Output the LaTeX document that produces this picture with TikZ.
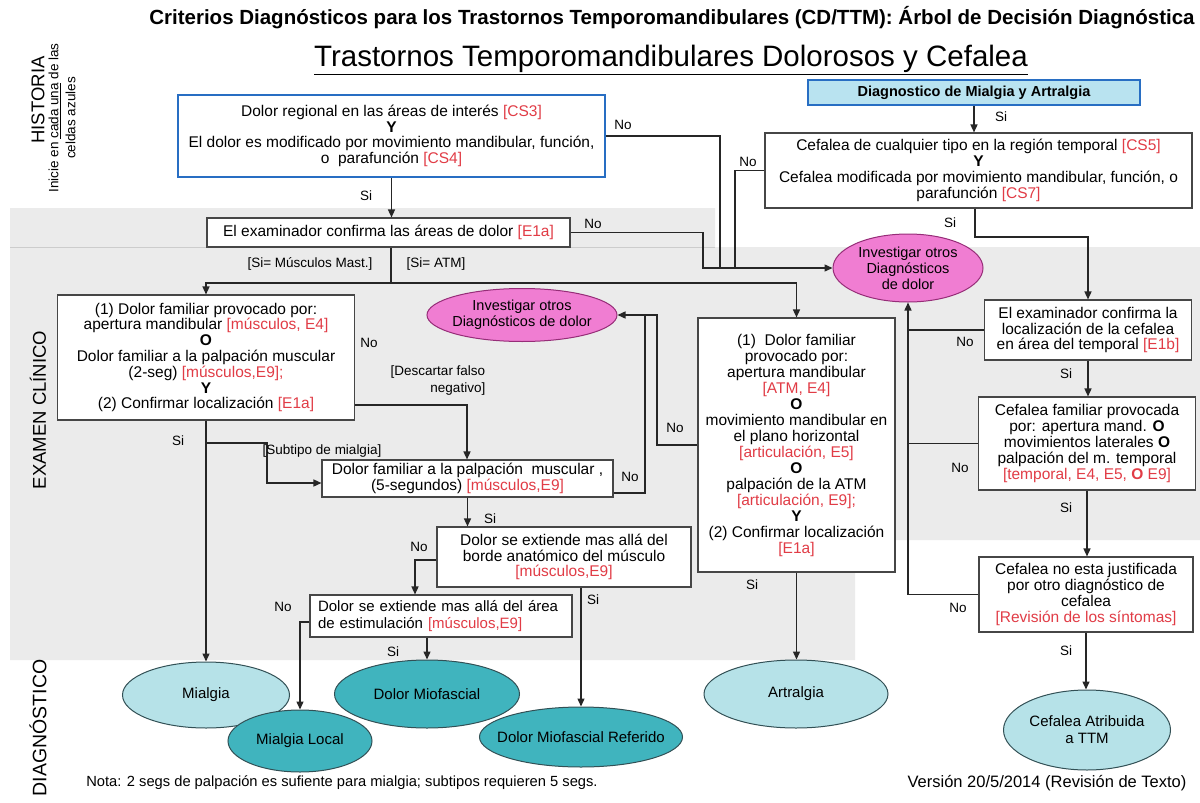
\documentclass[tikz,border=0pt]{standalone}
\usepackage{fontspec}
\setmainfont{Liberation Sans}
\usetikzlibrary{arrows.meta,shapes.geometric}

\definecolor{boxline}{RGB}{70,70,70}
\definecolor{boxblue}{RGB}{40,110,195}
\definecolor{diagfill}{RGB}{185,227,240}
\definecolor{pinkfill}{RGB}{240,125,210}
\definecolor{pinkline}{RGB}{150,45,120}
\definecolor{cyanfill}{RGB}{182,226,232}
\definecolor{tealfill}{RGB}{64,180,190}
\definecolor{ellline}{RGB}{50,80,85}
\definecolor{bggray}{RGB}{235,235,235}
\definecolor{cdred}{RGB}{225,60,70}
\newcommand{\rd}[1]{\textcolor{cdred}{#1}}

\begin{document}
\begin{tikzpicture}[x=1pt,y=-1pt,semithick,
  >={Triangle[length=8pt,width=7pt]},
  box/.style={draw=boxline,fill=white,line width=1.1pt,align=center,inner sep=0pt,
    font=\fontsize{15.5}{15.8}\selectfont},
  histbox/.style={box,draw=boxblue,line width=2.4pt},
  diagell/.style={draw=ellline,line width=1pt,ellipse,inner sep=-12pt,align=center,
    font=\fontsize{15}{17}\selectfont},
  lightell/.style={diagell,fill=cyanfill},
  darkell/.style={diagell,fill=tealfill},
  invell/.style={diagell,draw=pinkline,fill=pinkfill,font=\fontsize{14.5}{16}\selectfont},
  lbl/.style={inner sep=0pt,font=\fontsize{13.5}{17}\selectfont},
  side/.style={rotate=90,inner sep=0pt,font=\fontsize{18.5}{20}\selectfont},
  conn/.style={line width=1.4pt,draw=black!85}]
  \useasboundingbox (0,0) rectangle (1200,803);
  \fill[bggray] (10,208) -- (715,208) -- (715,247) -- (1200,247) -- (1200,540)
    -- (855,540) -- (855,660) -- (10,660) -- cycle;
  \draw[gray!40,line width=0.8pt] (10,247) -- (715,247);

  \node[font=\bfseries\fontsize{20.5}{22}\selectfont] (title) at (672,18) {Criterios Diagnósticos para los Trastornos Temporomandibulares (CD/TTM): Árbol de Decisión Diagnóstica};
  \node[font=\fontsize{29.5}{32}\selectfont] (subtitle) at (671,60) {\underline{Trastornos Temporomandibulares Dolorosos y Cefalea}};

  \node[side] (hist) at (38,100) {HISTORIA};
  \node[side,align=center,font=\fontsize{13.5}{17}\selectfont] (inicie) at (62,118) {Inicie en \underline{cada una} de las\\celdas azules};
  \node[side] (exam) at (38,410) {EXAMEN CLÍNICO};
  \node[side,font=\fontsize{19.5}{21}\selectfont] (diagn) at (38,728) {DIAGNÓSTICO};

  \node[histbox,minimum width=427,minimum height=82] (cs34) at (391.5,136) {Dolor regional en las áreas de interés \rd{[CS3]}\\\textbf{Y}\\El dolor es modificado por movimiento mandibular, función,\\o\ \ parafunción \rd{[CS4]}};
  \node[histbox,fill=diagfill,line width=2pt,minimum width=332,minimum height=25,font=\bfseries\fontsize{14.5}{16}\selectfont] (diag) at (974,92.5) {Diagnostico de Mialgia y Artralgia};
  \node[box,minimum width=427,minimum height=75] (cs57) at (978.5,170.5) {Cefalea de cualquier tipo en la región temporal \rd{[CS5]}\\\textbf{Y}\\Cefalea modificada por movimiento mandibular, función, o\\parafunción \rd{[CS7]}};
  \node[box,minimum width=363,minimum height=29] (e1a) at (388.5,232.5) {El examinador confirma las áreas de dolor \rd{[E1a]}};
  \node[box,minimum width=297,minimum height=125] (mus) at (206,357.5) {(1) Dolor familiar provocado por:\\apertura mandibular \rd{[músculos, E4]}\\\textbf{O}\\Dolor familiar a la palpación muscular\\(2-seg) \rd{[músculos,E9];}\\\textbf{Y}\\(2) Confirmar localización \rd{[E1a]}};
  \node[box,minimum width=197,minimum height=254,font=\fontsize{15.5}{16}\selectfont] (atm) at (796.5,445) {(1)\ \ Dolor familiar\\provocado por:\\apertura mandibular\\\rd{[ATM, E4]}\\\textbf{O}\\movimiento mandibular en\\el plano horizontal\\\rd{[articulación, E5]}\\\textbf{O}\\palpación de la ATM\\\rd{[articulación, E9];}\\\textbf{Y}\\(2) Confirmar localización\\\rd{[E1a]}};
  \node[box,minimum width=291,minimum height=37] (seg5) at (467.5,478.5) {Dolor familiar a la palpación\ \ muscular ,\\(5-segundos) \rd{[músculos,E9]}};
  \node[box,minimum width=254,minimum height=60] (borde) at (564,557) {Dolor se extiende mas allá del\\borde anatómico del músculo\\\rd{[músculos,E9]}};
  \node[box,minimum width=262,minimum height=42,align=left,text width=246,font=\fontsize{15}{17}\selectfont] (area) at (441,616) {Dolor se extiende mas allá del área\\de estimulación \rd{[músculos,E9]}};
  \node[box,minimum width=207,minimum height=60] (e1b) at (1088,330) {El examinador confirma la\\localización de la cefalea\\en área del temporal \rd{[E1b]}};
  \node[box,minimum width=217,minimum height=93] (cfam) at (1087,443.5) {Cefalea familiar provocada\\por: apertura mand. \textbf{O}\\movimientos laterales \textbf{O}\\palpación del m. temporal\\\rd{[temporal, E4, E5, \textbf{O} E9]}};
  \node[box,minimum width=214,minimum height=75] (cnoj) at (1086,594.5) {Cefalea no esta justificada\\por otro diagnóstico de\\cefalea\\\rd{[Revisión de los síntomas]}};

  \node[invell,minimum width=150,minimum height=68] (inv1) at (908,268) {Investigar otros\\Diagnósticos\\de dolor};
  \node[invell,minimum width=190,minimum height=53] (inv2) at (522,315) {Investigar otros\\Diagnósticos de dolor};
  \node[lightell,minimum width=167,minimum height=66] (mialgia) at (206,695) {Mialgia};
  \node[darkell,minimum width=144,minimum height=62] (mlocal) at (300,741) {Mialgia Local};
  \node[darkell,minimum width=185,minimum height=68] (dmiof) at (427,694) {Dolor Miofascial};
  \node[darkell,minimum width=197,minimum height=60] (dref) at (581,737) {Dolor Miofascial Referido};
  \node[lightell,minimum width=184,minimum height=68] (artr) at (796,694) {Artralgia};
  \node[lightell,minimum width=167,minimum height=80] (cta) at (1087,730) {Cefalea Atribuida\\a TTM};

  \coordinate (jn1) at (703,268);
  \coordinate (jn2) at (720,268);
  \coordinate (jn3) at (735,268);
  \coordinate (kn1) at (975,237);
  \coordinate (vn) at (908,594.5);
  \coordinate (sp) at (391,283);
  \coordinate (dn) at (467,405);
  \coordinate (sb) at (267,443);
  \coordinate (sb2) at (267,483);
  \coordinate (nn1) at (645,315);
  \coordinate (nn2) at (657,315);
  \coordinate (sn) at (645,493);
  \coordinate (bn) at (415,560);
  \coordinate (an) at (300,622);

  \draw[conn,->] (cs34.south) -- (cs34.south |- e1a.north);
  \draw[conn,->] (e1a.east) -| (jn1) -- (inv1.west);
  \draw[conn] (cs34.east) -| (jn2);
  \draw[conn] (cs57.west) -| (jn3);
  \draw[conn,->] (diag.south) -- (diag.south |- cs57.north);
  \draw[conn,->] (cs57.south -| kn1) -- (kn1) -| (e1b.north);
  \draw[conn,->] (e1b.south) -- (e1b.south |- cfam.north);
  \draw[conn,->] (cfam.south) -- (cfam.south |- cnoj.north);
  \draw[conn,->] (cnoj.south) -- (cnoj.south |- cta.north);
  \draw[conn] (e1b.west) -- (e1b.west -| vn);
  \draw[conn] (cfam.west) -- (cfam.west -| vn);
  \draw[conn,->] (cnoj.west) -- (vn) -- (inv1.south);

  \draw[conn] (e1a.south -| sp) -- (sp);
  \draw[conn,->] (sp) -| (mus.north);
  \draw[conn,->] (sp) -| (atm.north);
  \draw[conn,->] (mus.east |- dn) -- (dn) -- (dn |- seg5.north);
  \draw[conn,->] (mus.south) -- (mialgia.north);
  \draw[conn,->] (mus.south |- sb) -- (sb) -- (sb2) -- (sb2 -| seg5.west);
  \draw[conn] (sn -| seg5.east) -- (sn) -- (nn1);
  \draw[conn,->] (atm.west) -| (nn2) -- (inv2.east);
  \draw[conn,->] (seg5.south) -- (seg5.south |- borde.north);
  \draw[conn,->] (borde.west |- bn) -- (bn) -- (bn |- area.north);
  \draw[conn,->] (borde.south -| dref.north) -- (dref.north);
  \draw[conn,->] (area.west |- an) -- (an) -- (mlocal.north);
  \draw[conn,->] (area.south -| dmiof.north) -- (dmiof.north);
  \draw[conn,->] (atm.south) -- (atm.south |- artr.north);

  \node[lbl] (si1) at (366,196) {Si};
  \node[lbl] (no1) at (623,125) {No};
  \node[lbl] (no2) at (593,224) {No};
  \node[lbl] (no3) at (748,162) {No};
  \node[lbl] (si2) at (1001,117) {Si};
  \node[lbl] (si3) at (950,223) {Si};
  \node[lbl] (no4) at (965,342) {No};
  \node[lbl] (si4) at (1066,374) {Si};
  \node[lbl] (no5) at (960,468) {No};
  \node[lbl] (si5) at (1066,508) {Si};
  \node[lbl] (no6) at (958,608) {No};
  \node[lbl] (si6) at (1066,651) {Si};
  \node[lbl] (smus) at (310,264) {[Si= Músculos Mast.]};
  \node[lbl] (satm) at (436,264) {[Si= ATM]};
  \node[lbl] (no7) at (369,343) {No};
  \node[lbl,align=right] (desc) at (438,381) {[Descartar falso\\negativo]};
  \node[lbl] (si7) at (178,441) {Si};
  \node[lbl] (subt) at (322,451) {[Subtipo de mialgia]};
  \node[lbl] (no8) at (675,428) {No};
  \node[lbl] (no9) at (630,477) {No};
  \node[lbl] (si8) at (490,519) {Si};
  \node[lbl] (no10) at (419,547) {No};
  \node[lbl] (si9) at (593,600) {Si};
  \node[lbl] (no11) at (283,607) {No};
  \node[lbl] (si10) at (393,652) {Si};
  \node[lbl] (si11) at (752,585) {Si};

  \node[font=\fontsize{14.7}{16}\selectfont] (nota) at (342,783) {Nota: 2 segs de palpación es sufiente para mialgia; subtipos requieren 5 segs.};
  \node[font=\fontsize{16.5}{18}\selectfont] (version) at (1047,783) {Versión 20/5/2014 (Revisión de Texto)};
\end{tikzpicture}
\end{document}
